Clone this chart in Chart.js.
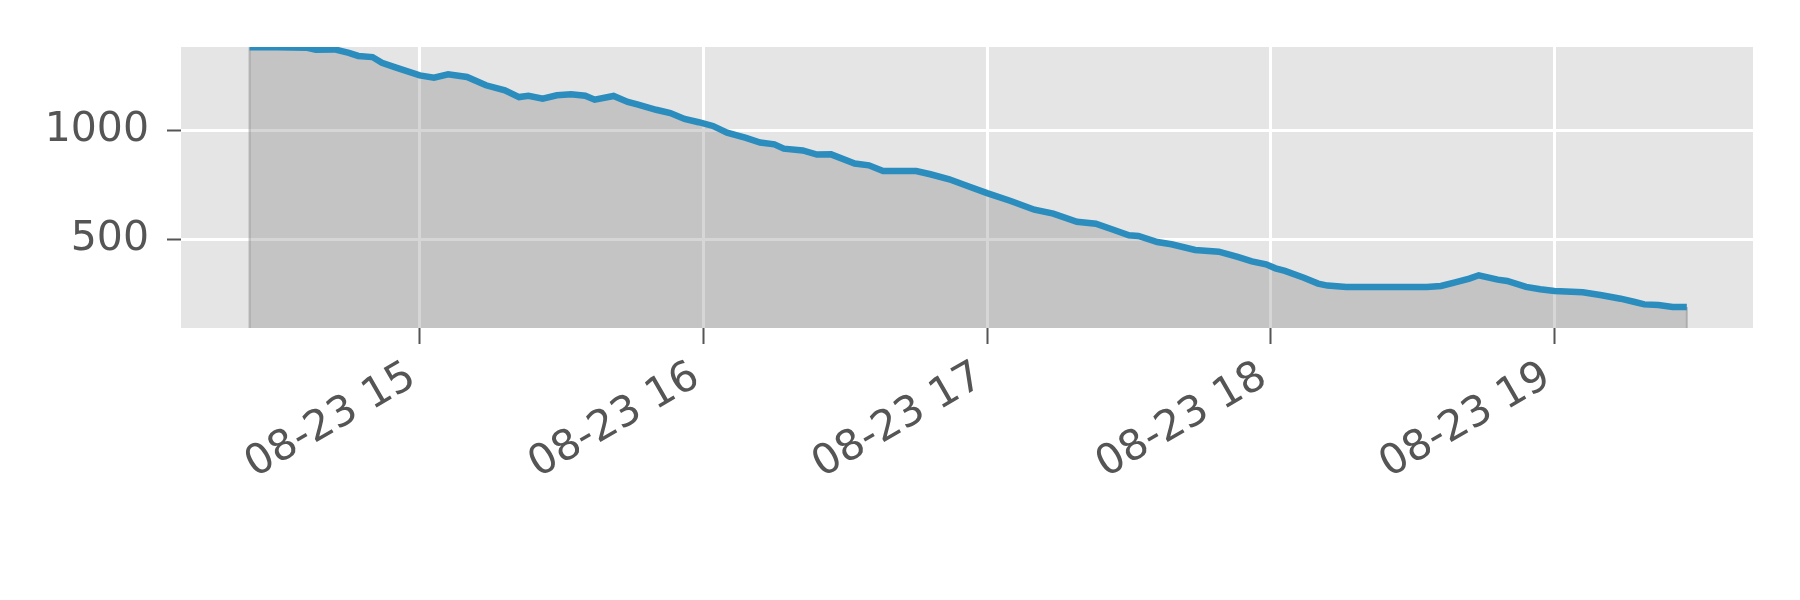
<!DOCTYPE html>
<html lang="en">
<head>
    <meta charset="UTF-8">
    <title>Remaining count 08-23</title>
    <script src="https://cdn.jsdelivr.net/npm/chart.js"></script>
    <style>
        body { margin: 0; background: #fff; }
        .wrap { width: 1800px; height: 600px; }
    </style>
</head>
<body>
    <div class="wrap"><canvas id="chart"></canvas></div>

    <script>
        // time of day (08-23) and value
        const times = [
            '14:24', '14:30', '14:36', '14:38', '14:42', '14:45', '14:47', '14:50', '14:52', '14:55',
            '15:00', '15:03', '15:06', '15:10', '15:14', '15:18', '15:21', '15:23', '15:26', '15:29',
            '15:32', '15:35', '15:37', '15:41', '15:44', '15:46', '15:50', '15:53', '15:56', '15:59',
            '16:02', '16:05', '16:09', '16:12', '16:15', '16:17', '16:21', '16:24', '16:27', '16:32',
            '16:35', '16:38', '16:45', '16:48', '16:52', '16:56', '17:00', '17:05', '17:10', '17:14',
            '17:19', '17:23', '17:27', '17:30', '17:32', '17:36', '17:39', '17:44', '17:49', '17:53',
            '17:56', '17:59', '18:01', '18:03', '18:07', '18:10', '18:12', '18:16', '18:33', '18:36',
            '18:39', '18:42', '18:44', '18:48', '18:50', '18:54', '18:57', '19:00', '19:06', '19:10',
            '19:14', '19:17', '19:19', '19:22', '19:25', '19:28'
        ];
        const values = [
            1380, 1380, 1378, 1369, 1370, 1354, 1340, 1335, 1309, 1287,
            1251, 1241, 1256, 1244, 1206, 1183, 1152, 1158, 1145, 1160,
            1165, 1158, 1140, 1157, 1130, 1119, 1094, 1079, 1052, 1037,
            1020, 989, 965, 944, 936, 916, 908, 889, 890, 848,
            840, 814, 814, 799, 776, 744, 713, 677, 637, 619,
            582, 573, 543, 520, 517, 489, 479, 453, 445, 421,
            401, 387, 369, 357, 326, 299, 290, 284, 284, 288,
            305, 322, 337, 317, 311, 284, 273, 265, 259, 246,
            230, 215, 204, 201, 192, 192
        ];
        const xTickHours = [15, 16, 17, 18, 19];
        const yTicks = [500, 1000];
        const datePrefix = '08-23';

        const toMin = t => { const [h, m] = t.split(':').map(Number); return h * 60 + m; };
        const points = times.map((t, i) => ({ x: toMin(t), y: values[i] }));

        // grey panel like the ggplot style
        const panelBg = {
            id: 'panelBg',
            beforeDraw(chart) {
                const a = chart.chartArea, ctx = chart.ctx;
                ctx.save();
                ctx.fillStyle = '#e5e5e5';
                ctx.fillRect(a.left, a.top, a.right - a.left, a.bottom - a.top);
                ctx.restore();
            }
        };

        // thin edge on both ends of the filled area
        const fillEdges = {
            id: 'fillEdges',
            beforeDatasetDraw(chart) {
                const xs = chart.scales.x, ys = chart.scales.y, ctx = chart.ctx;
                const first = points[0], last = points[points.length - 1];
                ctx.save();
                ctx.strokeStyle = 'rgba(128,128,128,0.45)';
                ctx.lineWidth = 2;
                [first, last].forEach(p => {
                    const px = xs.getPixelForValue(p.x);
                    ctx.beginPath();
                    ctx.moveTo(px, ys.getPixelForValue(p.y));
                    ctx.lineTo(px, chart.chartArea.bottom);
                    ctx.stroke();
                });
                ctx.restore();
            }
        };

        Chart.defaults.font.family = "'DejaVu Sans', sans-serif";
        Chart.defaults.color = '#555555';

        new Chart(document.getElementById('chart'), {
            type: 'line',
            data: {
                datasets: [{
                    data: points,
                    borderColor: '#2b8cbe',
                    borderWidth: 6.5,
                    backgroundColor: 'rgba(128,128,128,0.32)',
                    fill: 'start',
                    pointRadius: 0,
                    tension: 0,
                    clip: 0
                }]
            },
            options: {
                responsive: true,
                maintainAspectRatio: false,
                animation: false,
                layout: { padding: { top: 47, right: 47, left: 0, bottom: 0 } },
                plugins: { legend: { display: false }, tooltip: { enabled: false } },
                scales: {
                    x: {
                        type: 'linear',
                        min: 849.5,
                        max: 1182,
                        afterBuildTicks: s => { s.ticks = xTickHours.map(h => ({ value: h * 60 })); },
                        afterFit: s => { s.height = 272; },
                        grid: { color: '#ffffff', lineWidth: 3, tickColor: '#555555', tickLength: 16, tickWidth: 2 },
                        border: { display: false },
                        ticks: {
                            font: { size: 42 },
                            color: '#555555',
                            minRotation: 30,
                            maxRotation: 30,
                            padding: 8,
                            labelOffset: -7,
                            callback: v => datePrefix + ' ' + Math.floor(v / 60)
                        }
                    },
                    y: {
                        min: 96,
                        max: 1381,
                        afterBuildTicks: s => { s.ticks = yTicks.map(v => ({ value: v })); },
                        afterFit: s => { s.width = 181; },
                        grid: { color: '#ffffff', lineWidth: 3, tickColor: '#555555', tickLength: 14, tickWidth: 2 },
                        border: { display: false },
                        ticks: { font: { size: 41 }, color: '#555555', padding: 18, callback: v => String(v) }
                    }
                }
            },
            plugins: [panelBg, fillEdges]
        });
    </script>
</body>
</html>
